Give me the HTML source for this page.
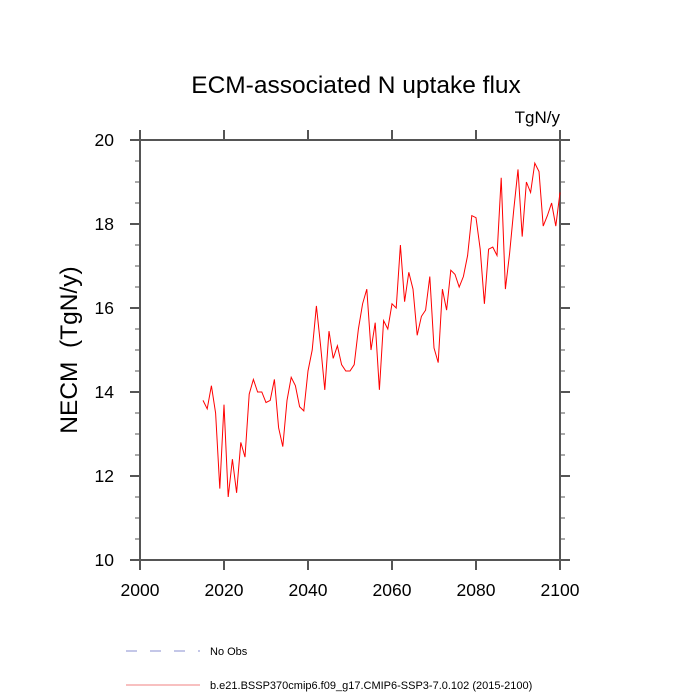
<!DOCTYPE html>
<html><head><meta charset="utf-8"><style>
body{margin:0;background:#fff;}
svg{display:block;font-family:"Liberation Sans",Arial,sans-serif;}
</style></head><body>
<svg id="chart" width="700" height="700" viewBox="0 0 700 700">
<text x="356" y="93" text-anchor="middle" font-size="24.5">ECM-associated N uptake flux</text>
<text x="560" y="123" text-anchor="end" font-size="17">TgN/y</text>
<text transform="translate(77,350) rotate(-90)" text-anchor="middle" font-size="24.5">NECM&#160; (TgN/y)</text>
<g id="axes"></g>
<g id="series"></g>
<g>
<line x1="126" y1="651" x2="200" y2="651" stroke="#8a8fd0" stroke-width="1" stroke-dasharray="11,13"/>
<text x="210" y="655" font-size="11">No Obs</text>
<line x1="126" y1="685" x2="200" y2="685" stroke="#f08080" stroke-width="1"/>
<text x="210" y="689" font-size="11">b.e21.BSSP370cmip6.f09_g17.CMIP6-SSP3-7.0.102 (2015-2100)</text>
</g>
</svg>
<script>
const startYear = 2015;
const values = [13.8,13.6,14.15,13.5,11.7,13.7,11.5,12.4,11.6,12.8,12.45,13.95,14.3,14.0,14.0,13.75,13.8,14.3,13.15,12.7,13.8,14.35,14.15,13.65,13.55,14.5,15.0,16.05,15.1,14.05,15.45,14.8,15.1,14.65,14.5,14.5,14.65,15.5,16.1,16.45,15.0,15.65,14.05,15.7,15.5,16.1,16.0,17.5,16.15,16.85,16.45,15.35,15.8,15.95,16.75,15.05,14.7,16.45,15.95,16.9,16.8,16.5,16.75,17.25,18.2,18.15,17.4,16.1,17.4,17.45,17.25,19.1,16.45,17.3,18.35,19.3,17.7,19.0,18.75,19.45,19.25,17.95,18.2,18.5,17.95,18.75];
const xTicks = [2000,2020,2040,2060,2080,2100];
const yTicks = [10,12,14,16,18,20];
const xMin=2000,xMax=2100,yMin=10,yMax=20;
const L=140,R=560,T=140,B=560;
const X=v=>L+(v-xMin)/(xMax-xMin)*(R-L);
const Y=v=>B-(v-yMin)/(yMax-yMin)*(B-T);
const NS='http://www.w3.org/2000/svg';
const ax=document.getElementById('axes');
function mk(tag,attrs,parent){const e=document.createElementNS(NS,tag);for(const k in attrs)e.setAttribute(k,attrs[k]);parent.appendChild(e);return e;}
const C='#555';
const frame=mk('rect',{x:L,y:T,width:R-L,height:B-T,fill:'none',stroke:C,'stroke-width':2},ax);


xTicks.forEach(t=>{
  const x=X(t);
  const a=mk('line',{x1:x,y1:B,x2:x,y2:B+10,stroke:C,'stroke-width':2},ax);
  
  
  const b=mk('line',{x1:x,y1:T,x2:x,y2:T-10,stroke:C,'stroke-width':2},ax);
  
  
  const tx=mk('text',{x:x,y:B+36,'text-anchor':'middle','font-size':17.5},ax);
  tx.textContent=t;
  
  
});
for(let v=yMin;v<=yMax+1e-9;v+=0.5){
  const y=Y(v);const major=Math.abs(v%2)<1e-9;const len=major?10:5;
  const a=mk('line',{x1:L,y1:y,x2:L-len,y2:y,stroke:C,'stroke-width':major?2:1},ax);
  
  
  const b=mk('line',{x1:R,y1:y,x2:R+len,y2:y,stroke:C,'stroke-width':major?2:1},ax);
  
  
}
yTicks.forEach(t=>{
  const tx=mk('text',{x:L-26,y:Y(t)+6,'text-anchor':'end','font-size':17.5},ax);
  tx.textContent=t;
  
  
});
const pts=values.map((v,i)=>X(startYear+i).toFixed(2)+','+Y(v).toFixed(2)).join(' ');
const pl=mk('polyline',{points:pts,fill:'none',stroke:'#ff0000','stroke-width':1},document.getElementById('series'));


</script>
</body></html>
